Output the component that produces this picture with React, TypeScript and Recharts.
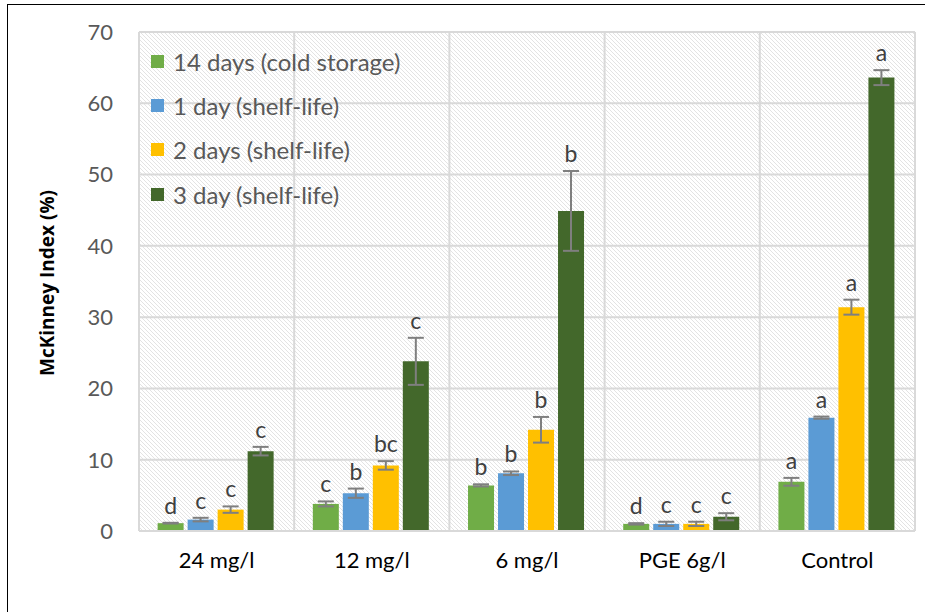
import { Bar, BarChart, CartesianGrid, ErrorBar, LabelList, XAxis, YAxis } from "recharts";

const categories = ["24 mg/l", "12 mg/l", "6 mg/l", "PGE 6g/l", "Control"];

const cold14 = [1.1, 3.8, 6.4, 1.0, 6.9];
const cold14Err = [0.05, 0.35, 0.15, 0.1, 0.55];
const cold14Letters = ["d", "c", "b", "d", "a"];

const day1 = [1.6, 5.3, 8.1, 1.0, 15.9];
const day1Err = [0.25, 0.65, 0.25, 0.3, 0.15];
const day1Letters = ["c", "b", "b", "c", "a"];

const day2 = [3.0, 9.2, 14.2, 1.0, 31.4];
const day2Err = [0.45, 0.6, 1.8, 0.3, 1.05];
const day2Letters = ["c", "bc", "b", "c", "a"];

const day3 = [11.2, 23.8, 44.9, 2.0, 63.6];
const day3Err = [0.6, 3.3, 5.6, 0.5, 1.05];
const day3Letters = ["c", "c", "b", "c", "a"];

const yTicks = [0, 10, 20, 30, 40, 50, 60, 70];

const series = [
  { key: "cold14", name: "14 days (cold storage)", color: "#70AD47", values: cold14, err: cold14Err, letters: cold14Letters },
  { key: "day1", name: "1 day (shelf-life)", color: "#5B9BD5", values: day1, err: day1Err, letters: day1Letters },
  { key: "day2", name: "2 days (shelf-life)", color: "#FFC000", values: day2, err: day2Err, letters: day2Letters },
  { key: "day3", name: "3 day (shelf-life)", color: "#43682B", values: day3, err: day3Err, letters: day3Letters },
];

const data = categories.map((name, i) => {
  const row: Record<string, string | number> = { name };
  series.forEach((s) => {
    row[s.key] = s.values[i];
    row[s.key + "Err"] = s.err[i];
    row[s.key + "Letter"] = s.letters[i];
  });
  return row;
});

const FONT = "Lato, 'Open Sans', sans-serif";

// letter placed above the error bar cap; px-per-unit taken from the bar itself
const LetterLabel = (props: any) => {
  const { x, y, width, height, value, barValue, errValue } = props;
  const ratio = height && barValue ? height / barValue : 7.13;
  const top = y - errValue * ratio;
  return (
    <text
      x={x + width / 2}
      y={top - 9}
      textAnchor="middle"
      fill="#404040"
      fontSize={23}
      fontFamily={FONT}
    >
      {value}
    </text>
  );
};

const LegendBox = () => (
  <div style={{ position: "absolute", left: 151, top: 39, fontFamily: FONT }}>
    {series.map((s) => (
      <div key={s.key} style={{ display: "flex", alignItems: "center", height: 44.3 }}>
        <div style={{ width: 13, height: 13, background: s.color, marginRight: 9 }} />
        <span style={{ fontSize: 24, color: "#595959", whiteSpace: "nowrap" }}>{s.name}</span>
      </div>
    ))}
  </div>
);

export default function App() {
  return (
    <div style={{ position: "absolute", left: 0, top: 0, width: 925, height: 612, background: "#fff", overflow: "hidden" }}>
      <div
        style={{
          position: "absolute",
          left: 7,
          top: 4,
          width: 930,
          height: 620,
          borderLeft: "1.5px solid #000",
          borderTop: "1.5px solid #000",
        }}
      />
      <div style={{ position: "absolute", left: 0, top: 0 }}>
        <BarChart
          width={925}
          height={612}
          data={data}
          margin={{ top: 32, right: 10, bottom: 51, left: 79 }}
          barCategoryGap="12%"
          barGap={4}
        >
          <defs>
            <pattern id="hatch" patternUnits="userSpaceOnUse" width={4} height={4}>
              <rect width={4} height={4} fill="#ffffff" />
              <path d="M0,0 L4,4 M-1,3 L1,5 M3,-1 L5,1" stroke="#e0e0e0" strokeWidth={0.9} />
            </pattern>
          </defs>
          <CartesianGrid
            fill="url(#hatch)"
            stroke="#d9d9d9"
            strokeWidth={2}
            verticalCoordinatesGenerator={({ offset }: any) =>
              categories
                .map((_, i) => offset.left + (i * offset.width) / categories.length)
                .concat(offset.left + offset.width)
            }
          />
          <XAxis
            dataKey="name"
            height={30}
            tickLine={false}
            tickSize={0}
            tickMargin={21}
            axisLine={{ stroke: "#d9d9d9", strokeWidth: 2 }}
            tick={{ fill: "#000", fontSize: 22, fontFamily: FONT }}
          />
          <YAxis
            width={60}
            domain={[0, 70]}
            ticks={yTicks}
            interval={0}
            tickLine={false}
            tickSize={0}
            tickMargin={26}
            axisLine={false}
            tick={{ fill: "#595959", fontSize: 22, fontFamily: FONT }}
            label={() => (
              <text
                x={47}
                y={283}
                transform="rotate(-90 47 283)"
                textAnchor="middle"
                dominantBaseline="central"
                fill="#000"
                fontSize={19}
                fontWeight="bold"
                fontFamily="'Open Sans', Lato, sans-serif"
              >
                McKinney Index (%)
              </text>
            )}
          />
          {series.map((s) => (
            <Bar key={s.key} dataKey={s.key} name={s.name} fill={s.color} isAnimationActive={false}>
              <ErrorBar dataKey={s.key + "Err"} width={8} stroke="#7f7f7f" strokeWidth={2} direction="y" />
              <LabelList
                dataKey={s.key + "Letter"}
                content={(p: any) => (
                  <LetterLabel {...p} barValue={s.values[p.index]} errValue={s.err[p.index]} />
                )}
              />
            </Bar>
          ))}
        </BarChart>
      </div>
      <LegendBox />
    </div>
  );
}
